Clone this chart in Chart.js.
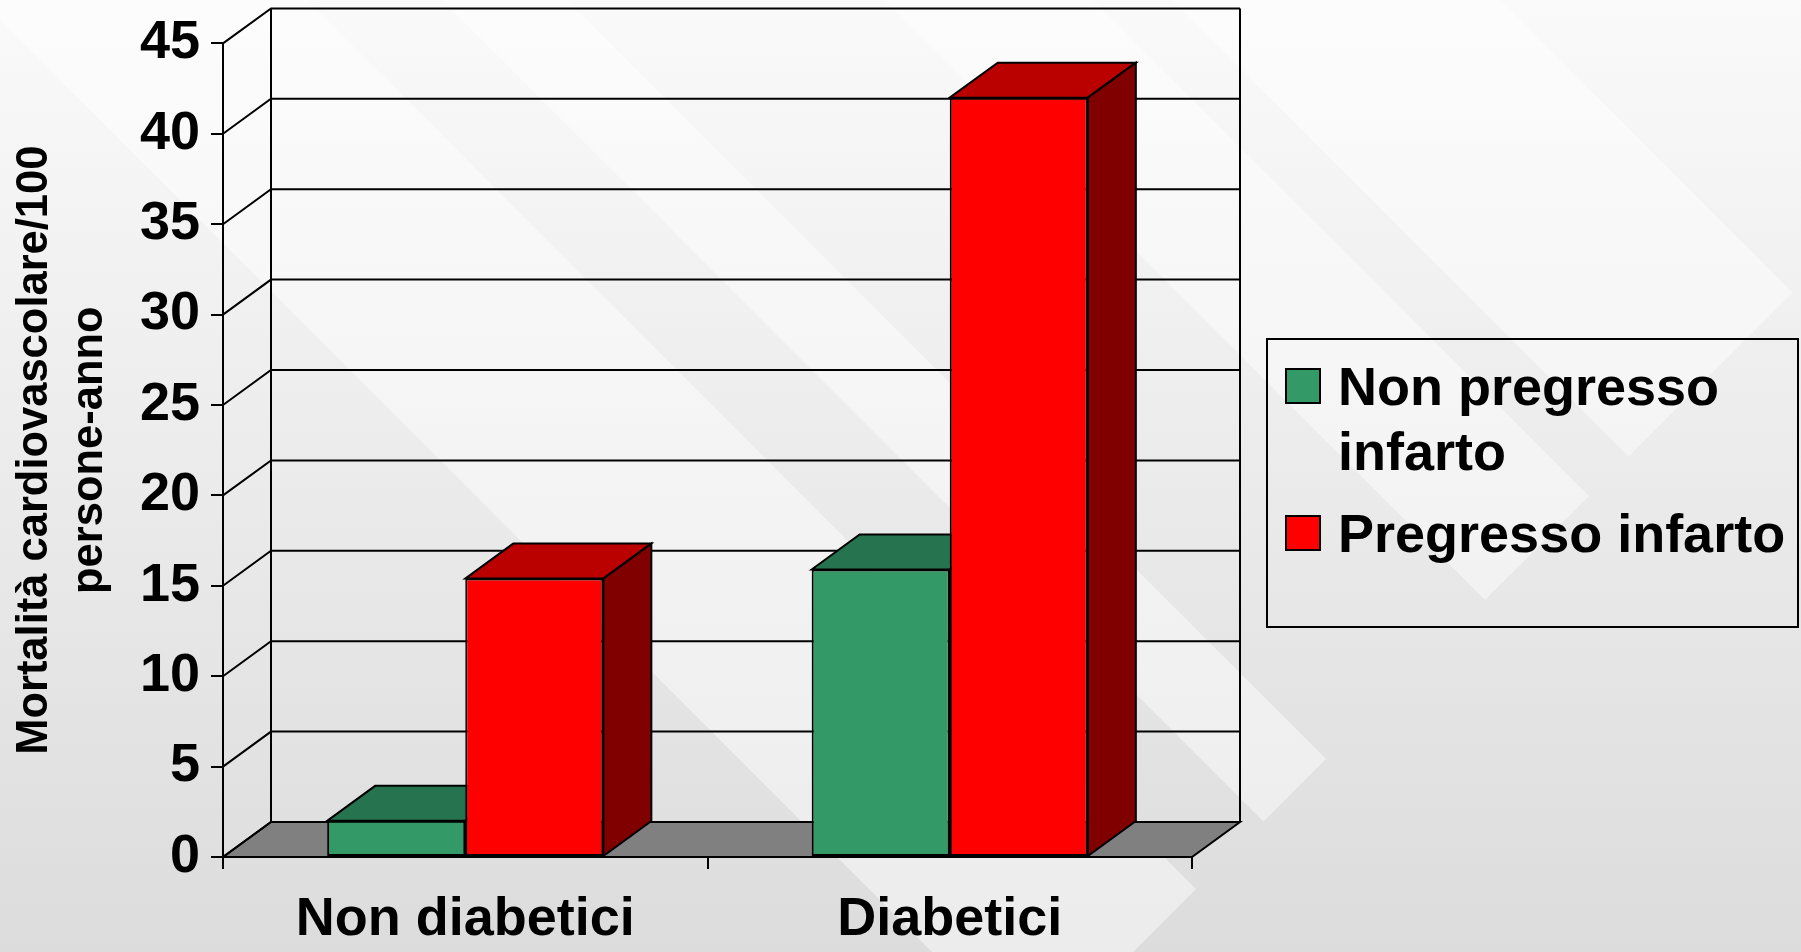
<!DOCTYPE html>
<html>
<head>
<meta charset="utf-8">
<title>Mortalità cardiovascolare</title>
<script src="https://cdn.jsdelivr.net/npm/chart.js@4.4.1/dist/chart.umd.min.js"></script>
<style>
  html, body { margin: 0; padding: 0; overflow: hidden; background: #e8e8e8; }
  #grafico { display: block; }
</style>
</head>
<body>
<canvas id="grafico" width="1801" height="952"></canvas>
<script>
  'use strict';

  // dati del grafico
  var categorie = ['Non diabetici', 'Diabetici'];
  var nomiSerie = ['Non pregresso infarto', 'Pregresso infarto'];
  var nonPregresso = [2.0, 15.9];
  var pregresso = [15.4, 42.0];
  var asseMax = 45;
  var asseStep = 5;
  var titoloAsse = ['Mortalità cardiovascolare/100', 'persone-anno'];

  // profondità della vista 3D (px)
  var DX = 48;
  var DY = 35;

  var FONT = '"Liberation Sans", Arial, sans-serif';
  Chart.defaults.font.family = FONT;
  Chart.defaults.color = '#000';

  function poligono(ctx, punti, colore) {
    ctx.beginPath();
    ctx.moveTo(punti[0][0], punti[0][1]);
    for (var i = 1; i < punti.length; i++) ctx.lineTo(punti[i][0], punti[i][1]);
    ctx.closePath();
    ctx.fillStyle = colore;
    ctx.fill();
    ctx.stroke();
  }

  // sfondo grigio con strisce diagonali chiare
  var sfondo = {
    id: 'sfondo',
    beforeDraw: function (chart) {
      var ctx = chart.ctx, w = chart.width, h = chart.height;
      var strisce = [[-1500, -1172], [-1093, -885], [-567, -442], [-307, 20]];
      ctx.save();
      var g = ctx.createLinearGradient(0, 0, 0, h);
      g.addColorStop(0, '#fafafa');
      g.addColorStop(1, '#dcdcdc');
      ctx.fillStyle = g;
      ctx.fillRect(0, 0, w, h);
      ctx.beginPath();
      ctx.moveTo(0, 0); ctx.lineTo(2085, 0); ctx.lineTo(0, 2085);
      ctx.closePath();
      ctx.clip();
      ctx.fillStyle = 'rgba(255,255,255,0.45)';
      strisce.forEach(function (s) {
        ctx.beginPath();
        ctx.moveTo(-s[0], 0);
        ctx.lineTo(-s[1], 0);
        ctx.lineTo(h - s[1], h);
        ctx.lineTo(h - s[0], h);
        ctx.closePath();
        ctx.fill();
      });
      ctx.restore();
    }
  };

  // pareti, pavimento e facce nascoste delle barre
  var prospettiva = {
    id: 'prospettiva',
    beforeDatasetsDraw: function (chart) {
      var ctx = chart.ctx, a = chart.chartArea, sy = chart.scales.y;
      ctx.save();
      ctx.lineWidth = 2;
      ctx.strokeStyle = '#000';
      ctx.lineJoin = 'miter';

      poligono(ctx, [[a.left, a.bottom], [a.right, a.bottom], [a.right + DX, a.bottom - DY], [a.left + DX, a.bottom - DY]], '#808080');

      sy.ticks.forEach(function (t) {
        var py = sy.getPixelForValue(t.value);
        ctx.beginPath();
        ctx.moveTo(a.left, py);
        ctx.lineTo(a.left + DX, py - DY);
        ctx.lineTo(a.right + DX, py - DY);
        ctx.stroke();
      });
      ctx.beginPath();
      ctx.moveTo(a.left + DX, a.top - DY); ctx.lineTo(a.left + DX, a.bottom - DY);
      ctx.moveTo(a.right + DX, a.top - DY); ctx.lineTo(a.right + DX, a.bottom - DY);
      ctx.stroke();

      chart.data.datasets.forEach(function (ds, i) {
        chart.getDatasetMeta(i).data.forEach(function (bar) {
          var p = bar.getProps(['x', 'y', 'base', 'width'], true);
          var l = p.x - p.width / 2, r = p.x + p.width / 2;
          poligono(ctx, [[l, p.y], [l + DX, p.y - DY], [r + DX, p.y - DY], [r, p.y]], ds.coloreSopra);
          poligono(ctx, [[r, p.y], [r + DX, p.y - DY], [r + DX, p.base - DY], [r, p.base]], ds.coloreLato);
        });
      });
      ctx.restore();
    }
  };

  function aCapo(ctx, testo, larghezza) {
    var parole = testo.split(' '), righe = [], riga = '';
    parole.forEach(function (p) {
      var prova = riga ? riga + ' ' + p : p;
      if (riga && ctx.measureText(prova).width > larghezza) {
        righe.push(riga);
        riga = p;
      } else {
        riga = prova;
      }
    });
    righe.push(riga);
    return righe;
  }

  // legenda a destra
  var legenda = {
    id: 'legenda',
    afterDraw: function (chart) {
      var ctx = chart.ctx;
      ctx.save();
      ctx.lineWidth = 2;
      ctx.strokeStyle = '#000';
      ctx.strokeRect(1267, 339, 531, 288);
      ctx.font = 'bold 54px ' + FONT;
      ctx.textBaseline = 'alphabetic';
      var base = 405;
      chart.data.datasets.forEach(function (ds) {
        var righe = aCapo(ctx, ds.label, 455);
        ctx.fillStyle = ds.backgroundColor;
        ctx.fillRect(1286, base - 36, 34, 34);
        ctx.strokeRect(1286, base - 36, 34, 34);
        ctx.fillStyle = '#000';
        righe.forEach(function (r, k) {
          ctx.fillText(r, 1338, base + k * 65);
        });
        base += (righe.length - 1) * 65 + 82;
      });
      ctx.restore();
    }
  };

  var ctx = document.getElementById('grafico');
  var chart = new Chart(ctx, {
    type: 'bar',
    data: {
      labels: categorie,
      datasets: [
        {
          label: nomiSerie[0],
          data: nonPregresso,
          backgroundColor: '#339966',
          coloreSopra: '#267350',
          coloreLato: '#1d5c3f',
          borderColor: '#000',
          borderWidth: 2,
          borderSkipped: false
        },
        {
          label: nomiSerie[1],
          data: pregresso,
          backgroundColor: '#ff0000',
          coloreSopra: '#bb0000',
          coloreLato: '#800000',
          borderColor: '#000',
          borderWidth: 2,
          borderSkipped: false
        }
      ]
    },
    options: {
      responsive: false,
      animation: false,
      events: [],
      categoryPercentage: 0.57,
      barPercentage: 1,
      layout: { padding: { top: 43, right: 609, left: 0, bottom: 0 } },
      plugins: {
        legend: { display: false },
        tooltip: { enabled: false }
      },
      scales: {
        x: {
          grid: { drawOnChartArea: false, tickLength: 12, color: '#000', lineWidth: 2, offset: true },
          border: { display: true, color: '#000', width: 2 },
          ticks: { color: '#000', font: { size: 54, weight: 'bold' }, padding: 19 },
          afterFit: function (s) { s.height = 95; }
        },
        y: {
          min: 0,
          max: asseMax,
          ticks: { stepSize: asseStep, color: '#000', font: { size: 54, weight: 'bold' }, padding: 11 },
          grid: { drawOnChartArea: false, tickLength: 12, color: '#000', lineWidth: 2 },
          border: { display: true, color: '#000', width: 2 },
          title: {
            display: true,
            text: titoloAsse,
            color: '#000',
            font: { size: 43.5, weight: 'bold', lineHeight: 1.27 },
            padding: { top: 7, bottom: 0 }
          },
          afterFit: function (s) { s.width = 223; }
        }
      }
    },
    plugins: [sfondo, prospettiva, legenda]
  });
</script>
</body>
</html>
